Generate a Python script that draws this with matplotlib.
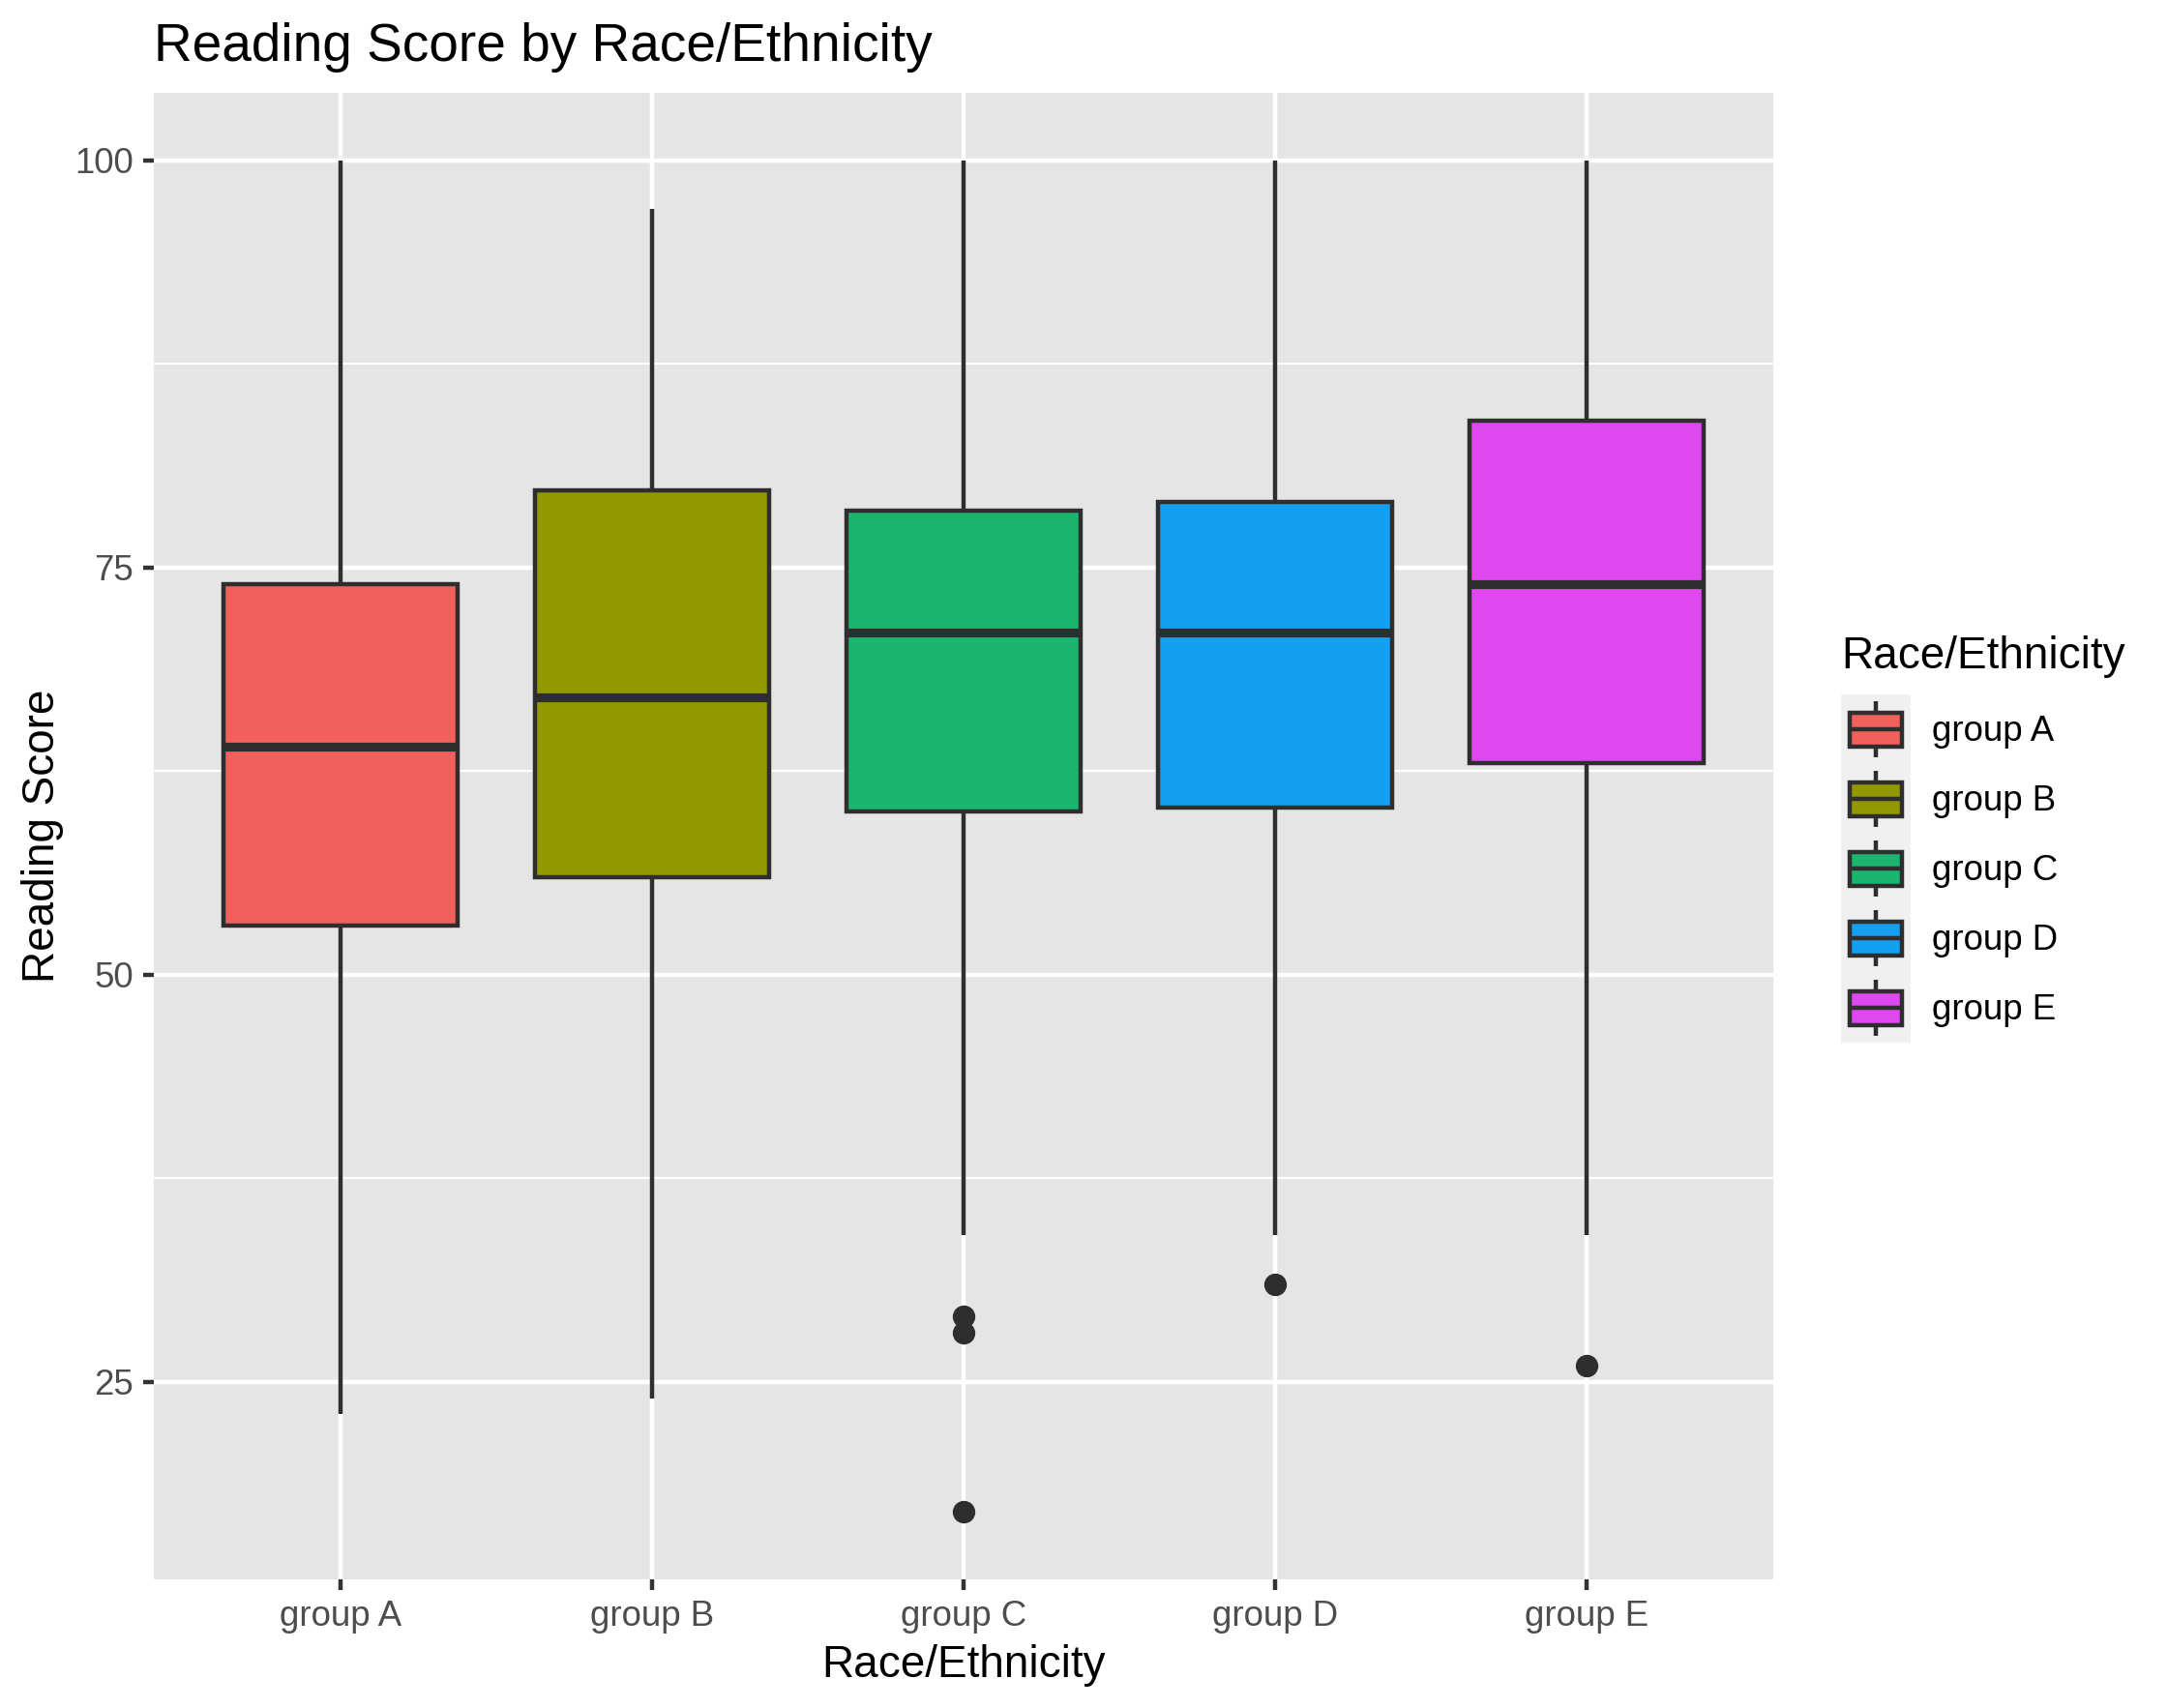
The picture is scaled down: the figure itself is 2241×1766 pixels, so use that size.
import matplotlib
matplotlib.use("Agg")
import matplotlib.pyplot as plt
from matplotlib.patches import Rectangle

plt.rcParams['font.family'] = ['Liberation Sans', 'DejaVu Sans']

# ---- data ----
groups = ['group A', 'group B', 'group C', 'group D', 'group E']
whislo = [23, 24, 34, 34, 34]
q1 = [53, 56, 60, 60.25, 63]
med = [64, 67, 71, 71, 74]
q3 = [74, 79.75, 78.5, 79, 84]
whishi = [100, 97, 100, 100, 100]
fliers = [[], [], [29, 28, 17], [31], [26]]
fill_colors = ['#F2605C', '#939700', '#1AB66E', '#159FF0', '#DF47F0']
y_ticks = [25, 50, 75, 100]
y_minor = [37.5, 62.5, 87.5]

W, H, DPI = 2241, 1766, 300
fig = plt.figure(figsize=(W / DPI, H / DPI), dpi=DPI)
fig.patch.set_facecolor('white')

L, R, T, B = 158.6, 1833.0, 95.9, 1633.3
ax = fig.add_axes([L / W, 1 - B / H, (R - L) / W, (B - T) / H])
ax.set_facecolor('#E5E5E5')
for s in ax.spines.values():
    s.set_visible(False)

positions = list(range(1, len(groups) + 1))
stats = []
for i, g in enumerate(groups):
    stats.append(dict(label=g, whislo=whislo[i], q1=q1[i], med=med[i],
                      q3=q3[i], whishi=whishi[i], fliers=fliers[i]))

lw = 1.07
edge = '#2E2E2E'
bp = ax.bxp(stats, positions=positions, widths=0.75, showcaps=False,
            patch_artist=True, zorder=3,
            boxprops=dict(edgecolor=edge, linewidth=lw),
            whiskerprops=dict(color=edge, linewidth=lw, solid_capstyle='butt'),
            medianprops=dict(color=edge, linewidth=2.2, solid_capstyle='butt'),
            flierprops=dict(marker='o', markersize=4.6, markerfacecolor=edge,
                            markeredgecolor=edge, linestyle='none'))
for patch, c in zip(bp['boxes'], fill_colors):
    patch.set_facecolor(c)

ax.set_xlim(0.4, 5.6)
ax.set_ylim(12.85, 104.15)
ax.set_yticks(y_ticks)
ax.set_yticks(y_minor, minor=True)
ax.set_xticks(positions)
ax.set_xticklabels(groups)
ax.grid(True, which='major', color='white', linewidth=1.07, zorder=0)
ax.grid(True, which='minor', axis='y', color='white', linewidth=0.53, zorder=0)
ax.set_axisbelow(True)
ax.tick_params(axis='both', which='major', length=2.75, width=1.07, color='#333333',
               labelcolor='#4D4D4D', labelsize=8.8, pad=2.2)
ax.tick_params(axis='y', which='minor', length=0)

ax.set_xlabel('Race/Ethnicity', fontsize=11, color='black', labelpad=2.75)
ax.set_ylabel('Reading Score', fontsize=11, color='black', labelpad=2.75)
ax.set_title('Reading Score by Race/Ethnicity', loc='left', fontsize=13.2,
             color='black', pad=8.0)

# ---- legend (drawn in pixel layout coordinates) ----
lax = fig.add_axes([0, 0, 1, 1], zorder=5)
lax.set_xlim(0, W)
lax.set_ylim(H, 0)
lax.axis('off')
lax.patch.set_alpha(0)
kx, ky, ks = 1903, 718, 72
lax.text(1903, 691, 'Race/Ethnicity', fontsize=11, color='black', va='baseline', ha='left')
for i, (g, c) in enumerate(zip(groups, fill_colors)):
    top = ky + i * ks
    lax.add_patch(Rectangle((kx, top), ks, ks, facecolor='#F0F0F0', edgecolor='none'))
    cx = kx + ks / 2
    lax.plot([cx, cx], [top + 7, top + 18.5], color=edge, linewidth=lw, solid_capstyle='butt')
    lax.plot([cx, cx], [top + 53.5, top + 65], color=edge, linewidth=lw, solid_capstyle='butt')
    lax.add_patch(Rectangle((kx + 9, top + 18.5), ks - 18, 35, facecolor=c,
                            edgecolor=edge, linewidth=lw))
    lax.plot([kx + 9, kx + ks - 9], [top + 36, top + 36], color=edge, linewidth=lw,
             solid_capstyle='butt')
    lax.text(1997, top + ks / 2 + 3, g, fontsize=8.8, color='black', va='center', ha='left')

fig.savefig('out.png', dpi=DPI)
